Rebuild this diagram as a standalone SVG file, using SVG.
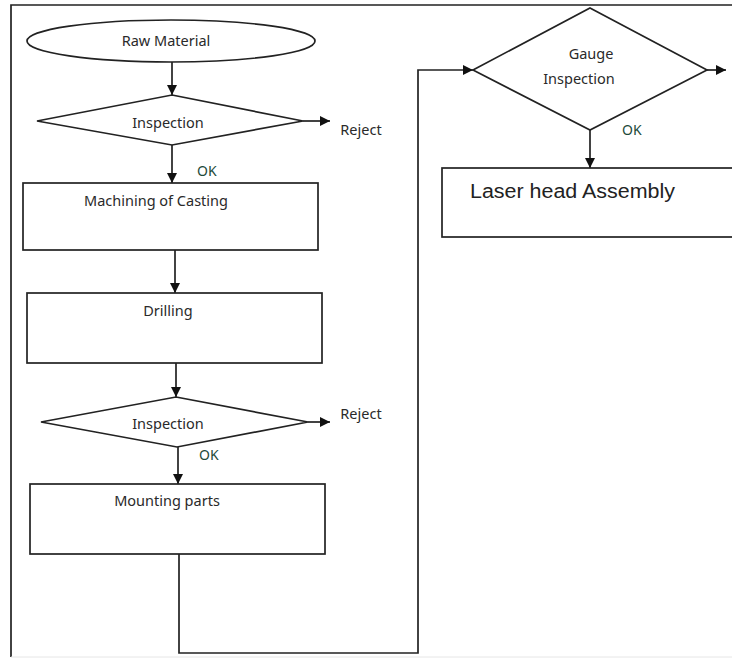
<svg xmlns="http://www.w3.org/2000/svg" width="732" height="658" viewBox="0 0 732 658">
<defs>
<marker id="ah" viewBox="0 0 10 10" refX="10" refY="5" markerWidth="10" markerHeight="10" markerUnits="userSpaceOnUse" orient="auto">
<path d="M0,0 L10,5 L0,10 z" fill="#111"/>
</marker>
<style>
.sh{fill:#fff;stroke:#222;stroke-width:1.7}
.ln{fill:none;stroke:#222;stroke-width:1.7}
.ar{fill:none;stroke:#222;stroke-width:1.7;marker-end:url(#ah)}
.t{font-family:"Noto Sans","Open Sans",sans-serif;font-size:14.5px;fill:#2a2a2a;text-anchor:middle}
.ok{font-family:"Noto Sans","Open Sans",sans-serif;font-size:14px;fill:#1e4a3a}
.big{font-family:"Liberation Sans",Arial,sans-serif;font-size:20px;fill:#222}
</style>
</defs>
<rect width="732" height="658" fill="#fff"/>
<g id="frame">
<path class="ln" d="M11,657 L11,5 L732,5" stroke-width="2"/>
<path d="M11,657 L732,657" stroke="#e6e6e6" stroke-width="1"/>
</g>
<g id="connectors">
<path class="ar" d="M172,62 L172,95"/>
<path class="ar" d="M303,121 L330,121"/>
<path class="ar" d="M172,145 L172,183"/>
<path class="ar" d="M175,250 L175,293"/>
<path class="ar" d="M176,363 L176,397"/>
<path class="ar" d="M308,422 L330,422"/>
<path class="ar" d="M178,447 L178,484"/>
<path class="ar" d="M179,554 L179,653 L418,653 L418,70 L473,70"/>
<path class="ar" d="M707,70 L726,70"/>
<path class="ar" d="M590,130 L590,168"/>
<text class="t" x="361" y="135">Reject</text>
<text class="ok" x="197" y="176">OK</text>
<text class="t" x="361" y="419">Reject</text>
<text class="ok" x="199" y="460">OK</text>
<text class="ok" x="622" y="135">OK</text>
</g>
<g id="raw-material">
<ellipse class="sh" cx="171" cy="41" rx="144" ry="21"/>
<text class="t" x="166" y="46">Raw Material</text>
</g>
<g id="inspection-1">
<polygon class="sh" points="172,95 303,121 172,145 37,121"/>
<text class="t" x="168" y="128">Inspection</text>
</g>
<g id="machining">
<rect class="sh" x="23" y="183" width="295" height="67"/>
<text class="t" x="156" y="206">Machining of Casting</text>
</g>
<g id="drilling">
<rect class="sh" x="27" y="293" width="295" height="70"/>
<text class="t" x="168" y="316">Drilling</text>
</g>
<g id="inspection-2">
<polygon class="sh" points="176,397 308,422 177,447 41,422"/>
<text class="t" x="168" y="429">Inspection</text>
</g>
<g id="mounting">
<rect class="sh" x="30" y="484" width="295" height="70"/>
<text class="t" x="167" y="506">Mounting parts</text>
</g>
<g id="gauge-inspection">
<polygon class="sh" points="590,8 707,70 590,130 473,70"/>
<text class="t" x="591" y="59">Gauge</text>
<text class="t" x="579" y="84">Inspection</text>
</g>
<g id="laser-head">
<rect class="sh" x="442" y="168" width="300" height="69"/>
<text class="big" x="470" y="198" textLength="205" lengthAdjust="spacingAndGlyphs">Laser head Assembly</text>
</g>
</svg>
